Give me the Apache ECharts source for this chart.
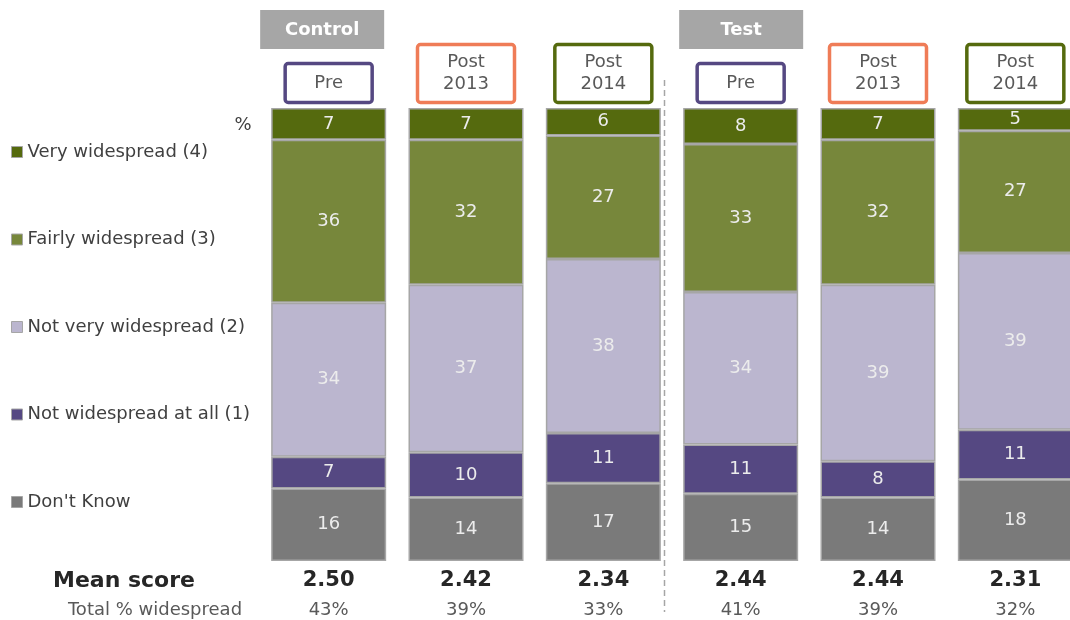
<!DOCTYPE html>
<html>
<head>
<meta charset="utf-8">
<script src="https://cdn.jsdelivr.net/npm/echarts@6/dist/echarts.min.js"></script>
<style>
  html, body { margin: 0; padding: 0; background: #ffffff; }
  #chart { width: 1070px; height: 620px; }
</style>
</head>
<body>
<div id="chart"></div>
<script>
// Survey waves per group
var groups = ['Control', 'Control', 'Control', 'Test', 'Test', 'Test'];
var waves = ['Pre', 'Post\n2013', 'Post\n2014', 'Pre', 'Post\n2013', 'Post\n2014'];

// Response shares (%), bottom to top of each stack
var dontKnow    = [16, 14, 17, 15, 14, 18];
var notAtAll    = [7, 10, 11, 11, 8, 11];
var notVery     = [34, 37, 38, 34, 39, 39];
var fairly      = [36, 32, 27, 33, 32, 27];
var veryWide    = [7, 7, 6, 8, 7, 5];

// Summary rows under the bars
var meanScore   = ['2.50', '2.42', '2.34', '2.44', '2.44', '2.31'];
var totalWide   = ['43%', '39%', '33%', '41%', '39%', '32%'];

var seriesNames = ['Don\'t Know', 'Not widespread at all (1)', 'Not very widespread (2)', 'Fairly widespread (3)', 'Very widespread (4)'];
var seriesData  = [dontKnow, notAtAll, notVery, fairly, veryWide];
var seriesColors = ['#7a7a7a', '#554882', '#bbb6cf', '#77873b', '#556a0e'];
var waveColors = ['#554882', '#ef7c57', '#556a0e', '#554882', '#ef7c57', '#556a0e'];

var FONT = '"DejaVu Sans", Verdana, sans-serif';

// Each column is shown as a 100% stack
var totals = waves.map(function (_, i) {
  return seriesData.reduce(function (s, arr) { return s + arr[i]; }, 0);
});

var chart = echarts.init(document.getElementById('chart'));

var series = seriesData.map(function (arr, k) {
  return {
    name: seriesNames[k],
    type: 'bar',
    stack: 'share',
    barWidth: 115,
    data: arr.map(function (v, i) { return v / totals[i] * 100; }),
    itemStyle: { color: seriesColors[k], borderColor: '#a6a6a6', borderWidth: 1.5 },
    label: {
      show: true,
      position: 'inside',
      color: '#ececec',
      fontFamily: FONT,
      fontSize: 18,
      formatter: function (p) { return String(arr[p.dataIndex]); }
    },
    emphasis: { disabled: true }
  };
});

chart.setOption({
  animation: false,
  backgroundColor: '#ffffff',
  grid: { left: 260, top: 108, width: 824, bottom: 59, outerBoundsMode: 'none', containLabel: false },
  legend: {
    orient: 'vertical',
    left: 11,
    top: 142,
    padding: 0,
    itemGap: 67.5,
    itemWidth: 11,
    itemHeight: 11,
    icon: 'rect',
    selectedMode: false,
    itemStyle: { borderColor: '#a6a6a6', borderWidth: 1 },
    textStyle: { fontFamily: FONT, fontSize: 18, color: '#404040', lineHeight: 20 },
    data: seriesNames.slice().reverse()
  },
  xAxis: {
    type: 'category',
    data: waves,
    axisLine: { show: false },
    axisTick: { show: false },
    axisLabel: {
      margin: 7,
      interval: 0,
      formatter: function (v, i) {
        return '{m|' + meanScore[i] + '}\n{t|' + totalWide[i] + '}';
      },
      rich: {
        m: { fontFamily: FONT, fontSize: 21, fontWeight: 'bold', color: '#262626', lineHeight: 26 },
        t: { fontFamily: FONT, fontSize: 18, color: '#595959', lineHeight: 32 }
      }
    }
  },
  yAxis: { type: 'value', min: 0, max: 100, show: false },
  series: series
});

// Header boxes, group banners, divider and row captions
var graphics = [];
var half = 57.5;
var centers = waves.map(function (_, i) { return chart.convertToPixel({ xAxisIndex: 0 }, i); });

waves.forEach(function (w, i) {
  var cx = centers[i];
  var twoLine = w.indexOf('\n') >= 0;
  var bw = twoLine ? 97 : 87;
  var top = twoLine ? 44.5 : 63.5;
  var bottom = 102.5;
  graphics.push({
    type: 'rect',
    shape: { x: cx - bw / 2, y: top, width: bw, height: bottom - top, r: 3 },
    style: { fill: '#ffffff', stroke: waveColors[i], lineWidth: 3.5 }
  });
  graphics.push({
    type: 'text',
    style: {
      text: w, x: cx, y: (top + bottom) / 2, align: 'center', verticalAlign: 'middle',
      font: '18px ' + FONT, fill: '#595959', lineHeight: 22
    }
  });
});

// Group banners above the first wave of each group
[0, 3].forEach(function (i, g) {
  var cx = centers[i];
  var x0 = g === 0 ? cx - 68.5 : cx - 61.5;
  graphics.push({
    type: 'rect',
    shape: { x: x0, y: 10, width: 124, height: 39 },
    style: { fill: '#a6a6a6' }
  });
  graphics.push({
    type: 'text',
    style: {
      text: groups[i], x: x0 + 62, y: 30, align: 'center', verticalAlign: 'middle',
      font: 'bold 18px ' + FONT, fill: '#ffffff'
    }
  });
});

// Dashed divider between the two groups
var dx = Math.round(centers[2] + half + 3) + 0.5;
graphics.push({
  type: 'line',
  shape: { x1: dx, y1: 80, x2: dx, y2: 612 },
  style: { stroke: '#a6a6a6', lineWidth: 1.5, lineDash: [6, 4] }
});

graphics.push({
  type: 'text',
  style: { text: '%', x: 243, y: 125, align: 'center', verticalAlign: 'middle', font: '18px ' + FONT, fill: '#404040' }
});
graphics.push({
  type: 'text',
  style: { text: 'Mean score', x: 124, y: 581, align: 'center', verticalAlign: 'middle', font: 'bold 22px ' + FONT, fill: '#262626' }
});
graphics.push({
  type: 'text',
  style: { text: 'Total % widespread', x: 155, y: 610, align: 'center', verticalAlign: 'middle', font: '18px ' + FONT, fill: '#595959' }
});

chart.setOption({ graphic: { elements: graphics } });
</script>
</body>
</html>
